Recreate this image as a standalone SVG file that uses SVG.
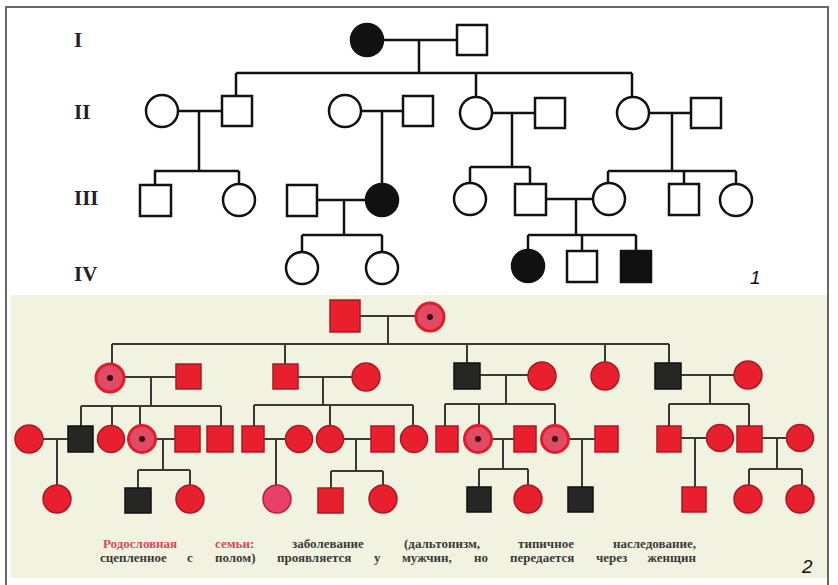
<svg xmlns="http://www.w3.org/2000/svg" width="838" height="585" viewBox="0 0 838 585">
<style>
.gl{font-family:"Liberation Serif",serif;font-weight:bold;font-size:21px;fill:#222}
.num{font-family:"Liberation Sans",sans-serif;font-style:italic;font-size:19px;fill:#111}
.k{fill:none;stroke:#111;stroke-width:2.5}
.kn{fill:#fff;stroke:#111;stroke-width:2.5}
.kf{fill:#111;stroke:#111;stroke-width:2.5}
.c2{fill:none;stroke:#3a3a32;stroke-width:2}
.r{fill:#e8202e;stroke:#a8182a;stroke-width:1.5}
.p{fill:#e8406a;stroke:#b8203a;stroke-width:1.5}
.b{fill:#262624;stroke:#111;stroke-width:1.5}
.d{fill:#e24a66;stroke:#dd1f2d;stroke-width:3}
.dot{fill:#3a0a10}
.cap{font-family:"Liberation Serif",serif;font-weight:bold;font-size:13px;fill:#3a3a38}
.capr{fill:#d4485c}
</style>
<rect x="0" y="0" width="838" height="585" fill="#fff"/>
<rect x="6" y="7" width="822" height="600" fill="#fff" stroke="#666" stroke-width="2"/>
<rect x="11" y="295" width="816" height="283" fill="#f1f3e0"/>

<!-- Part 1 -->
<g id="labels1">
<text class="gl" x="74" y="47">I</text>
<text class="gl" x="74" y="119">II</text>
<text class="gl" x="74" y="205">III</text>
<text class="gl" x="74" y="281">IV</text>
<text class="num" x="750" y="284">1</text>
</g>
<g id="connectors1">
<path class="k" d="M383,40 H457 M419,40 V73 M236,73 H632 M236,73 V96 M476,73 V97 M632,73 V97"/>
<path class="k" d="M178,111 H222 M199,111 V171 M154,171 H239 M155,171 V185 M239,171 V184"/>
<path class="k" d="M361,111 H403 M382,111 V184"/>
<path class="k" d="M492,113 H535 M512,113 V167 M470,167 H530 M470,167 V183 M530,167 V184"/>
<path class="k" d="M649,113 H691 M672,113 V171 M608,171 H736 M608,171 V183 M684,171 V184 M736,171 V184"/>
<path class="k" d="M317,200 H366 M344,200 V235 M302,235 H382 M302,235 V252 M382,235 V252"/>
<path class="k" d="M546,199 H593 M576,199 V235 M528,235 H636 M528,235 V250 M582,235 V251 M636,235 V251"/>
</g>
<g id="p1-I-1"><circle class="kf" cx="367" cy="40" r="16"/></g>
<g id="p1-I-2"><rect class="kn" x="457" y="25" width="30" height="30"/></g>
<g id="p1-II-1"><circle class="kn" cx="162" cy="111" r="16"/></g>
<g id="p1-II-2"><rect class="kn" x="222" y="96" width="30" height="30"/></g>
<g id="p1-II-3"><circle class="kn" cx="345" cy="111" r="16"/></g>
<g id="p1-II-4"><rect class="kn" x="403" y="96" width="30" height="30"/></g>
<g id="p1-II-5"><circle class="kn" cx="476" cy="113" r="16"/></g>
<g id="p1-II-6"><rect class="kn" x="535" y="98" width="30" height="30"/></g>
<g id="p1-II-7"><circle class="kn" cx="633" cy="113" r="16"/></g>
<g id="p1-II-8"><rect class="kn" x="691" y="98" width="30" height="30"/></g>
<g id="p1-III-1"><rect class="kn" x="140" y="185" width="31" height="31"/></g>
<g id="p1-III-2"><circle class="kn" cx="239" cy="200" r="16"/></g>
<g id="p1-III-3"><rect class="kn" x="287" y="185" width="30" height="31"/></g>
<g id="p1-III-4"><circle class="kf" cx="382" cy="200" r="16"/></g>
<g id="p1-III-5"><circle class="kn" cx="470" cy="199" r="16"/></g>
<g id="p1-III-6"><rect class="kn" x="515" y="184" width="31" height="31"/></g>
<g id="p1-III-7"><circle class="kn" cx="609" cy="199" r="16"/></g>
<g id="p1-III-8"><rect class="kn" x="669" y="184" width="30" height="31"/></g>
<g id="p1-III-9"><circle class="kn" cx="736" cy="200" r="16"/></g>
<g id="p1-IV-1"><circle class="kn" cx="302" cy="268" r="16"/></g>
<g id="p1-IV-2"><circle class="kn" cx="382" cy="268" r="16"/></g>
<g id="p1-IV-3"><circle class="kf" cx="528" cy="266" r="16"/></g>
<g id="p1-IV-4"><rect class="kn" x="567" y="251" width="30" height="31"/></g>
<g id="p1-IV-5"><rect class="kf" x="621" y="251" width="30" height="31"/></g>

<!-- Part 2 -->
<g id="connectors2">
<path class="c2" d="M360,316 H416 M388,316 V344 M112,344 H669 M112,344 V364 M285,344 V364 M467,344 V363 M605,344 V362 M669,344 V363"/>
<path class="c2" d="M124,377 H176 M151,377 V406 M81,406 H221 M81,406 V426 M112,406 V425 M140,406 V425 M221,406 V426"/>
<path class="c2" d="M297,377 H352 M323,377 V405 M254,405 H413 M254,405 V426 M330,405 V425 M413,405 V425"/>
<path class="c2" d="M480,375 H528 M506,375 V404 M445,404 H555 M445,404 V426 M479,404 V425 M555,404 V425"/>
<path class="c2" d="M681,375 H734 M710,375 V404 M669,404 H749 M669,404 V426 M749,404 V426"/>
<path class="c2" d="M43,439 H68 M57,439 V485"/>
<path class="c2" d="M156,439 H175 M163,439 V470 M138,470 H190 M138,470 V488 M190,470 V485"/>
<path class="c2" d="M264,439 H286 M276,439 V485"/>
<path class="c2" d="M343,439 H371 M356,439 V471 M331,471 H383 M331,471 V488 M383,471 V485"/>
<path class="c2" d="M491,439 H514 M503,439 V469 M479,469 H528 M479,469 V487 M528,469 V485"/>
<path class="c2" d="M568,439 H595 M582,439 V487"/>
<path class="c2" d="M681,438 H707 M695,438 V487"/>
<path class="c2" d="M762,438 H787 M777,438 V469 M749,469 H802 M749,469 V485 M802,469 V485"/>
</g>
<g id="p2-I-1"><rect class="r" x="330" y="300" width="30" height="32"/></g>
<g id="p2-I-2"><circle class="d" cx="430" cy="317" r="14"/><circle class="dot" cx="430" cy="317" r="3"/></g>

<g id="p2-II-1"><circle class="d" cx="110" cy="378" r="14"/><circle class="dot" cx="110" cy="378" r="3"/></g>
<g id="p2-II-2"><rect class="r" x="176" y="364" width="25" height="25"/></g>
<g id="p2-II-3"><rect class="r" x="273" y="364" width="25" height="25"/></g>
<g id="p2-II-4"><circle class="r" cx="366" cy="377" r="14"/></g>
<g id="p2-II-5"><rect class="b" x="454" y="363" width="26" height="26"/></g>
<g id="p2-II-6"><circle class="r" cx="542" cy="376" r="14"/></g>
<g id="p2-II-7"><circle class="r" cx="605" cy="376" r="14"/></g>
<g id="p2-II-8"><rect class="b" x="655" y="363" width="26" height="26"/></g>
<g id="p2-II-9"><circle class="r" cx="748" cy="375" r="14"/></g>

<g id="p2-III-1"><circle class="r" cx="29" cy="439" r="14"/></g>
<g id="p2-III-2"><rect class="b" x="68" y="426" width="25" height="26"/></g>
<g id="p2-III-3"><circle class="r" cx="111" cy="439" r="13.5"/></g>
<g id="p2-III-4"><circle class="d" cx="142" cy="439" r="13.5"/><circle class="dot" cx="142" cy="439" r="3"/></g>
<g id="p2-III-5"><rect class="r" x="175" y="426" width="25" height="26"/></g>
<g id="p2-III-6"><rect class="r" x="207" y="426" width="26" height="26"/></g>
<g id="p2-III-7"><rect class="r" x="242" y="426" width="22" height="26"/></g>
<g id="p2-III-8"><circle class="r" cx="299" cy="439" r="13.5"/></g>
<g id="p2-III-9"><circle class="r" cx="330" cy="439" r="13.5"/></g>
<g id="p2-III-10"><rect class="r" x="371" y="426" width="23" height="26"/></g>
<g id="p2-III-11"><circle class="r" cx="414" cy="439" r="13.5"/></g>
<g id="p2-III-12"><rect class="r" x="436" y="426" width="22" height="26"/></g>
<g id="p2-III-13"><circle class="d" cx="478" cy="439" r="13.5"/><circle class="dot" cx="478" cy="439" r="3"/></g>
<g id="p2-III-14"><rect class="r" x="514" y="426" width="22" height="26"/></g>
<g id="p2-III-15"><circle class="d" cx="555" cy="439" r="13.5"/><circle class="dot" cx="555" cy="439" r="3"/></g>
<g id="p2-III-16"><rect class="r" x="595" y="426" width="23" height="26"/></g>
<g id="p2-III-17"><rect class="r" x="657" y="426" width="24" height="26"/></g>
<g id="p2-III-18"><circle class="r" cx="720" cy="438" r="13.5"/></g>
<g id="p2-III-19"><rect class="r" x="737" y="426" width="25" height="26"/></g>
<g id="p2-III-20"><circle class="r" cx="800" cy="438" r="13.5"/></g>

<g id="p2-IV-1"><circle class="r" cx="57" cy="499" r="14"/></g>
<g id="p2-IV-2"><rect class="b" x="125" y="488" width="26" height="25"/></g>
<g id="p2-IV-3"><circle class="r" cx="190" cy="499" r="14"/></g>
<g id="p2-IV-4"><circle class="p" cx="277" cy="499" r="14"/></g>
<g id="p2-IV-5"><rect class="r" x="318" y="488" width="25" height="25"/></g>
<g id="p2-IV-6"><circle class="r" cx="383" cy="499" r="14"/></g>
<g id="p2-IV-7"><rect class="b" x="467" y="487" width="24" height="25"/></g>
<g id="p2-IV-8"><circle class="r" cx="528" cy="499" r="14"/></g>
<g id="p2-IV-9"><rect class="b" x="568" y="487" width="25" height="25"/></g>
<g id="p2-IV-10"><rect class="r" x="682" y="487" width="24" height="25"/></g>
<g id="p2-IV-11"><circle class="r" cx="748" cy="499" r="14"/></g>
<g id="p2-IV-12"><circle class="r" cx="800" cy="499" r="14"/></g>

<g id="caption">
<text class="cap capr" x="103" y="548">Родословная</text>
<text class="cap capr" x="215" y="548">семьи:</text>
<text class="cap" x="292" y="548">заболевание</text>
<text class="cap" x="404" y="548">(дальтонизм,</text>
<text class="cap" x="518" y="548">типичное</text>
<text class="cap" x="696" y="548" text-anchor="end">наследование,</text>
<text class="cap" x="100" y="562">сцепленное</text>
<text class="cap" x="187" y="562">с</text>
<text class="cap" x="215" y="562">полом)</text>
<text class="cap" x="277" y="562">проявляется</text>
<text class="cap" x="374" y="562">у</text>
<text class="cap" x="402" y="562">мужчин,</text>
<text class="cap" x="474" y="562">но</text>
<text class="cap" x="510" y="562">передается</text>
<text class="cap" x="596" y="562">через</text>
<text class="cap" x="696" y="562" text-anchor="end">женщин</text>
<text class="num" x="802" y="573">2</text>
</g>
</svg>
